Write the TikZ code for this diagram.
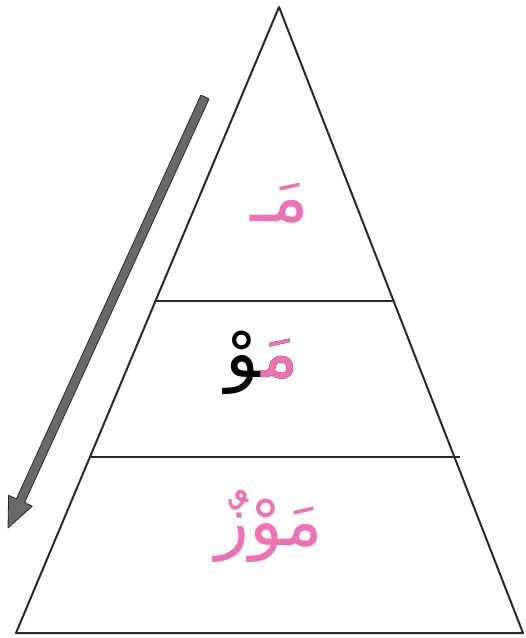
\documentclass[tikz,border=0pt]{standalone}
\usepackage{fontspec}
\usetikzlibrary{calc}
\TeXXeTstate=1
\newfontfamily\arabicfont[Script=Arabic]{DejaVu Sans}
\definecolor{arpink}{RGB}{238,112,182}
\definecolor{argray}{RGB}{105,105,105}
\definecolor{arline}{RGB}{40,40,40}
\tikzset{
  edge/.style={draw=arline, line width=2pt, line join=round},
  divline/.style={draw=arline, line width=1.5pt},
  word/.style={inner sep=0pt, anchor=base east, font=\arabicfont\fontsize{70}{84}\selectfont},
  arrowshape/.style={fill=argray, draw=arline, line width=0.8pt, line join=round}
}
\begin{document}
\begin{tikzpicture}[x=1pt,y=-1pt]
\useasboundingbox (0,0) rectangle (526,638);
% triangle
\coordinate (apex) at (279,7);
\coordinate (bl) at (16,633);
\coordinate (br) at (523,633);
\path[edge] (apex) -- (bl) -- (br) -- cycle;
% dividers
\coordinate (d1l) at (155,301);
\coordinate (d1r) at (394,301);
\coordinate (d2l) at (91,457);
\coordinate (d2r) at (460,457);
\path[divline] (d1l) -- (d1r);
\path[divline] (d2l) -- (d2r);
% arrow
\coordinate (at) at (205,97);
\coordinate (ah) at (8,528);
\coordinate (hb) at ($(ah)!30pt!(at)$);
\path[arrowshape] ($(at)!4.5pt!90:(ah)$) -- ($(hb)!4.5pt!-90:(at)$) -- ($(hb)!13pt!-90:(at)$) -- (ah)
  -- ($(hb)!13pt!90:(at)$) -- ($(hb)!4.5pt!90:(at)$) -- ($(at)!4.5pt!-90:(ah)$) -- cycle;
% words
\node[word, text=arpink] (w1) at (309,221) {\beginR مَـ\endR};
\node[word, text=black] (w2) at (299,377) {\beginR مَوْ\endR};
\node[word, text=arpink] (w2m) at (299,377) {\beginR مَ‍\endR};
\node[word, text=arpink] (w3) at (323,545) {\beginR مَوْزٌ\endR};
\end{tikzpicture}
\end{document}
